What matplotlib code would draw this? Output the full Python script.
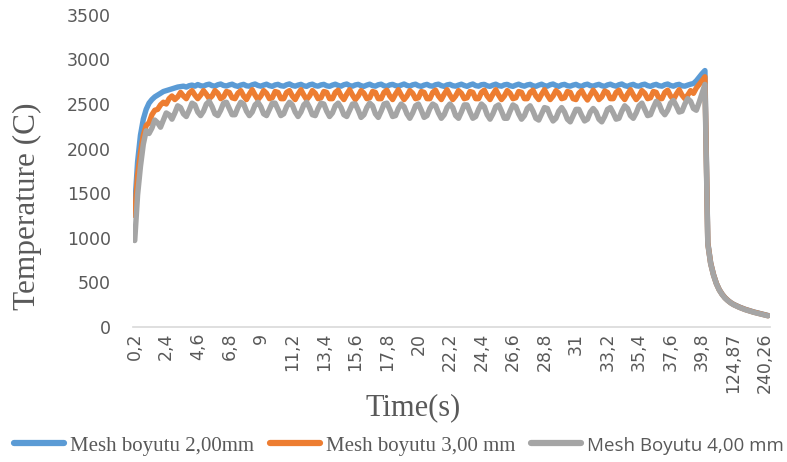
import numpy as np
import matplotlib.pyplot as plt

# category labels shown on the x axis (every 11th category)
tick_labels = ['0,2', '2,4', '4,6', '6,8', '9', '11,2', '13,4', '15,6', '17,8', '20',
               '22,2', '24,4', '26,6', '28,8', '31', '33,2', '35,4', '37,6', '39,8',
               '124,87', '240,26']
tick_step = 11

# Mesh boyutu 2,00mm
mesh_2 = [
    1350, 1850, 2150, 2330, 2440, 2510, 2550, 2580, 2600, 2620, 2640,
    2650, 2660, 2670, 2680, 2690, 2695, 2700, 2690, 2705, 2712, 2700,
    2718, 2705, 2700, 2715, 2722, 2706, 2700, 2716, 2724, 2708, 2702,
    2714, 2722, 2706, 2698, 2712, 2720, 2704, 2700, 2715, 2724, 2708,
    2700, 2712, 2722, 2706, 2698, 2714, 2720, 2705, 2700, 2716, 2725,
    2708, 2700, 2712, 2720, 2704, 2698, 2715, 2722, 2706, 2700, 2714,
    2720, 2704, 2698, 2712, 2722, 2708, 2700, 2716, 2724, 2706, 2700,
    2714, 2720, 2705, 2698, 2712, 2722, 2706, 2700, 2716, 2722, 2704,
    2698, 2714, 2720, 2706, 2700, 2712, 2724, 2708, 2700, 2715, 2722,
    2705, 2698, 2712, 2720, 2704, 2700, 2716, 2722, 2706, 2698, 2714,
    2720, 2705, 2700, 2712, 2722, 2708, 2698, 2714, 2724, 2706, 2700,
    2716, 2720, 2704, 2698, 2712, 2722, 2706, 2700, 2715, 2720, 2705,
    2698, 2712, 2722, 2708, 2700, 2714, 2720, 2704, 2698, 2712, 2722,
    2706, 2700, 2716, 2724, 2708, 2698, 2714, 2720, 2705, 2700, 2712,
    2720, 2704, 2698, 2715, 2722, 2706, 2700, 2712, 2720, 2705, 2698,
    2714, 2722, 2708, 2700, 2716, 2724, 2706, 2698, 2712, 2720, 2704,
    2700, 2715, 2722, 2706, 2698, 2712, 2720, 2705, 2700, 2716, 2724,
    2708, 2700, 2714, 2720, 2704, 2700, 2712, 2722, 2730, 2760, 2800,
    2840, 2875, 950, 720, 590, 490, 420, 370, 330, 300, 275,
    255, 240, 225, 212, 200, 190, 180, 170, 162, 154, 146,
    138, 130,
]

# Mesh boyutu 3,00 mm
mesh_3 = [
    1250, 1700, 1950, 2150, 2260, 2290, 2380, 2430, 2440, 2490, 2520,
    2500, 2560, 2590, 2550, 2580, 2630, 2590, 2560, 2620, 2650, 2600,
    2560, 2600, 2650, 2610, 2560, 2590, 2650, 2620, 2560, 2580, 2640,
    2630, 2570, 2560, 2620, 2650, 2590, 2550, 2610, 2660, 2600, 2550,
    2590, 2650, 2620, 2560, 2570, 2640, 2630, 2560, 2560, 2630, 2650,
    2590, 2550, 2610, 2660, 2600, 2550, 2590, 2650, 2620, 2560, 2570,
    2640, 2630, 2560, 2560, 2630, 2655, 2590, 2550, 2610, 2660, 2600,
    2550, 2590, 2650, 2620, 2560, 2570, 2640, 2630, 2560, 2560, 2630,
    2655, 2590, 2550, 2610, 2660, 2600, 2550, 2590, 2650, 2620, 2560,
    2570, 2640, 2630, 2560, 2560, 2630, 2655, 2590, 2550, 2610, 2660,
    2600, 2550, 2590, 2650, 2620, 2560, 2570, 2640, 2630, 2560, 2560,
    2630, 2655, 2590, 2550, 2610, 2660, 2600, 2550, 2590, 2650, 2620,
    2560, 2570, 2640, 2630, 2560, 2560, 2630, 2655, 2590, 2550, 2610,
    2660, 2600, 2550, 2590, 2650, 2620, 2560, 2570, 2640, 2630, 2560,
    2550, 2620, 2650, 2590, 2545, 2600, 2655, 2610, 2550, 2580, 2645,
    2630, 2560, 2560, 2630, 2655, 2590, 2550, 2610, 2660, 2600, 2550,
    2590, 2650, 2620, 2560, 2570, 2640, 2630, 2560, 2560, 2630, 2655,
    2590, 2550, 2610, 2660, 2600, 2560, 2600, 2650, 2620, 2680, 2720,
    2760, 2805, 940, 715, 585, 488, 418, 368, 328, 298, 273,
    253, 238, 223, 210, 198, 188, 178, 168, 160, 152, 144,
    136, 128,
]

# Mesh Boyutu 4,00 mm
mesh_4 = [
    970, 1480, 1800, 2050, 2200, 2170, 2230, 2320, 2290, 2240, 2320,
    2400, 2380, 2330, 2400, 2480, 2460, 2390, 2360, 2430, 2510, 2490,
    2410, 2370, 2420, 2500, 2530, 2470, 2390, 2370, 2430, 2510, 2520,
    2450, 2380, 2380, 2460, 2520, 2500, 2420, 2370, 2410, 2490, 2520,
    2470, 2390, 2370, 2440, 2510, 2510, 2440, 2370, 2390, 2470, 2520,
    2490, 2410, 2360, 2410, 2490, 2520, 2460, 2380, 2370, 2450, 2510,
    2500, 2420, 2360, 2400, 2480, 2510, 2460, 2380, 2360, 2430, 2500,
    2500, 2430, 2350, 2380, 2460, 2510, 2480, 2390, 2350, 2420, 2500,
    2510, 2440, 2360, 2370, 2450, 2500, 2470, 2390, 2340, 2400, 2480,
    2500, 2430, 2350, 2370, 2450, 2500, 2480, 2400, 2340, 2380, 2460,
    2500, 2460, 2370, 2340, 2410, 2490, 2490, 2410, 2340, 2360, 2440,
    2500, 2470, 2380, 2330, 2390, 2470, 2490, 2420, 2340, 2340, 2420,
    2490, 2470, 2390, 2330, 2370, 2450, 2480, 2420, 2340, 2320, 2390,
    2460, 2450, 2370, 2310, 2340, 2420, 2460, 2410, 2330, 2300, 2370,
    2440, 2440, 2370, 2310, 2330, 2410, 2450, 2410, 2330, 2300, 2360,
    2440, 2460, 2400, 2330, 2340, 2420, 2480, 2450, 2370, 2340, 2400,
    2480, 2510, 2440, 2370, 2380, 2460, 2530, 2500, 2420, 2380, 2430,
    2510, 2540, 2480, 2410, 2420, 2500, 2560, 2530, 2450, 2430, 2520,
    2620, 2720, 930, 710, 580, 485, 415, 365, 325, 296, 271,
    251, 236, 221, 208, 196, 186, 176, 166, 158, 150, 142,
    134, 126,
]

series_names = ['Mesh boyutu 2,00mm', 'Mesh boyutu 3,00 mm', 'Mesh Boyutu 4,00 mm']
series_values = [mesh_2, mesh_3, mesh_4]
colors = ['#5B9BD5', '#ED7D31', '#A5A5A5']

tick_font = ['DejaVu Sans']
sans = ['Open Sans', 'DejaVu Sans']
serif = ['Liberation Serif', 'DejaVu Serif']
grey_text = '#595959'

fig = plt.figure(figsize=(7.87, 4.62), dpi=100)
ax = fig.add_axes([0.169, 0.292, 0.809, 0.676])

x = np.arange(len(mesh_2))
lines = []
for name, vals, c in zip(series_names, series_values, colors):
    ln, = ax.plot(x, vals, color=c, lw=3.9, solid_capstyle='round',
                  solid_joinstyle='round', label=name)
    lines.append(ln)

ax.set_xlim(-0.6, len(mesh_2) - 0.4)
ax.set_ylim(0, 3500)
ax.set_yticks(np.arange(0, 3501, 500))
ax.set_xticks(x[::tick_step][:len(tick_labels)])
ax.set_xticklabels(tick_labels, rotation=90)

for s in ['top', 'right', 'left']:
    ax.spines[s].set_visible(False)
ax.spines['bottom'].set_color('#D9D9D9')
ax.spines['bottom'].set_linewidth(1.2)

ax.tick_params(axis='both', length=0, colors=grey_text, labelsize=12.5)
ax.tick_params(axis='y', pad=16)
ax.tick_params(axis='x', pad=4)
for lab in ax.get_xticklabels() + ax.get_yticklabels():
    lab.set_fontfamily(tick_font)

fig.text(27 / 787, 1 - 206 / 462, 'Temperature (C)', rotation=90, ha='center',
         va='center', fontsize=22.5, family=serif, color=grey_text)
fig.text(413 / 787, 1 - 408 / 462, 'Time(s)', ha='center', va='center',
         fontsize=22, family=serif, color=grey_text)

leg = fig.legend(handles=lines, loc='center', bbox_to_anchor=(0.507, 1 - 446 / 462),
                 ncol=3, frameon=False, handlelength=2.4, handletextpad=0.3,
                 columnspacing=0.75, prop={'family': serif, 'size': 15})
for t in leg.get_texts():
    t.set_color(grey_text)
leg.get_texts()[2].set_fontfamily(sans)
leg.get_texts()[2].set_fontsize(13.5)
for h in leg.legend_handles:
    h.set_linewidth(4.5)

fig.savefig('out.png', dpi=100)
